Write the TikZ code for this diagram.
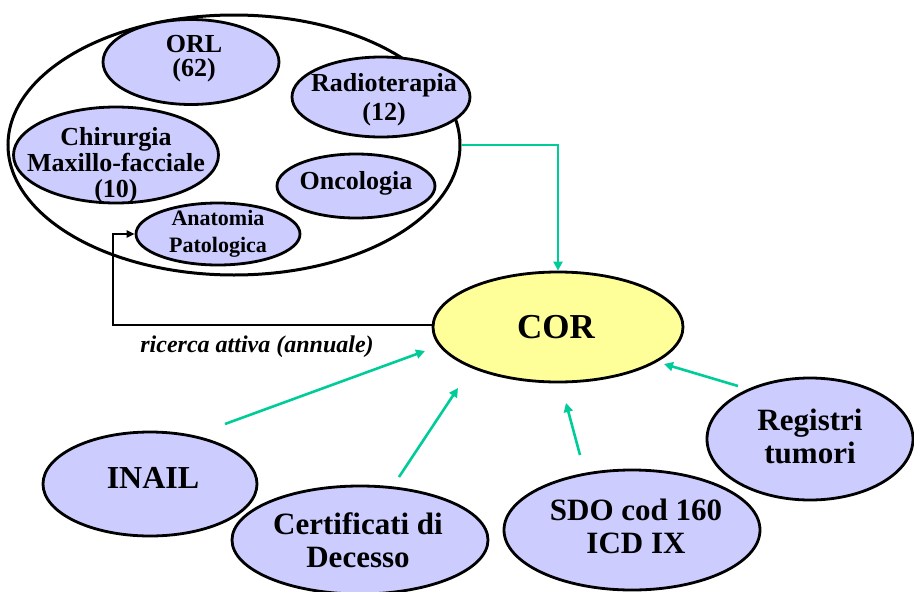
\documentclass[tikz,border=0pt]{standalone}
\usepackage{fontspec}
\setmainfont{Liberation Serif}
\usetikzlibrary{shapes.geometric,arrows.meta}
\definecolor{lav}{HTML}{CCCCFF}
\definecolor{yel}{HTML}{FFFF99}
\definecolor{grn}{HTML}{00CC99}
\newcommand{\fs}[2]{\fontsize{#1}{#2}\selectfont}
\tikzset{
  oval/.style={ellipse,draw=black,line width=2.8pt,fill=lav,inner sep=0pt},
  txt/.style={inner sep=0pt,align=center},
  sz/.style 2 args={font=\bfseries\fs{#1}{#2}},
  flow/.style={draw=grn,line width=2.6pt,-{Triangle[length=9pt,width=9pt]}},
  back/.style={draw=black,line width=2pt,-{Triangle[length=8pt,width=7pt]}}
}
\begin{document}
\begin{tikzpicture}[x=1pt,y=-1pt]
\useasboundingbox (0,0) rectangle (914,592);
% outer ellipse
\node[ellipse,draw=black,line width=3pt,minimum width=452pt,minimum height=260pt,inner sep=0pt] (outer) at (234,145) {};
% ellipses
\node[oval,minimum width=176pt,minimum height=85pt] (orl) at (191,62) {};
\node[oval,minimum width=178pt,minimum height=80pt] (radio) at (381,97) {};
\node[oval,minimum width=205pt,minimum height=96pt] (chir) at (116,155) {};
\node[oval,minimum width=158pt,minimum height=64pt] (onco) at (356,186) {};
\node[oval,minimum width=164pt,minimum height=62pt] (anat) at (218,234) {};
\node[oval,fill=yel,minimum width=250pt,minimum height=110pt] (cor) at (558,327) {};
\node[oval,minimum width=214pt,minimum height=104pt] (inail) at (150,484) {};
\node[oval,minimum width=256pt,minimum height=108pt] (cert) at (360,540) {};
\node[oval,minimum width=256pt,minimum height=120pt] (sdo) at (632,530) {};
\node[oval,minimum width=206pt,minimum height=122pt] (reg) at (810,439) {};
% texts
\node[txt,sz={26}{24}] (orlT) at (194,59) {ORL\\(62)};
\node[txt,sz={26}{29}] (radioT) at (384,100) {Radioterapia\\(12)};
\node[txt,sz={26}{26}] (chirT) at (116,165) {Chirurgia\\Maxillo-facciale\\(10)};
\node[txt,sz={26}{28}] (oncoT) at (356,183) {Oncologia};
\node[txt,sz={22}{27}] (anatT) at (218,234) {Anatomia\\Patologica};
\node[txt,sz={35}{38}] (corT) at (556,327) {COR};
\node[txt,sz={32}{34}] (inailT) at (153,478) {INAIL};
\node[txt,sz={31}{33}] (certT) at (358,540) {Certificati di\\Decesso};
\node[txt,sz={31}{33}] (sdoT) at (636,526) {SDO cod 160\\ICD IX};
\node[txt,sz={31}{33}] (regT) at (810,436) {Registri\\tumori};
% green connection from the group to COR
\draw[flow] (outer.east) -| (cor.north);
% feedback
\coordinate (fb) at (113,325);
\draw[back] (cor.west |- fb) -- (fb) |- (anat.west);
\node[font=\bfseries\itshape\fs{24}{26}] (lbl) at (257,347) {ricerca attiva (annuale)};
% green arrows
\coordinate (a1s) at (225,424); \coordinate (a1e) at (425,351);
\coordinate (a2s) at (399,477); \coordinate (a2e) at (458,388);
\coordinate (a3s) at (580,455); \coordinate (a3e) at (566,403);
\coordinate (a4s) at (738,386); \coordinate (a4e) at (664,364);
\draw[flow] (a1s) -- (a1e);
\draw[flow] (a2s) -- (a2e);
\draw[flow] (a3s) -- (a3e);
\draw[flow] (a4s) -- (a4e);
\end{tikzpicture}
\end{document}
